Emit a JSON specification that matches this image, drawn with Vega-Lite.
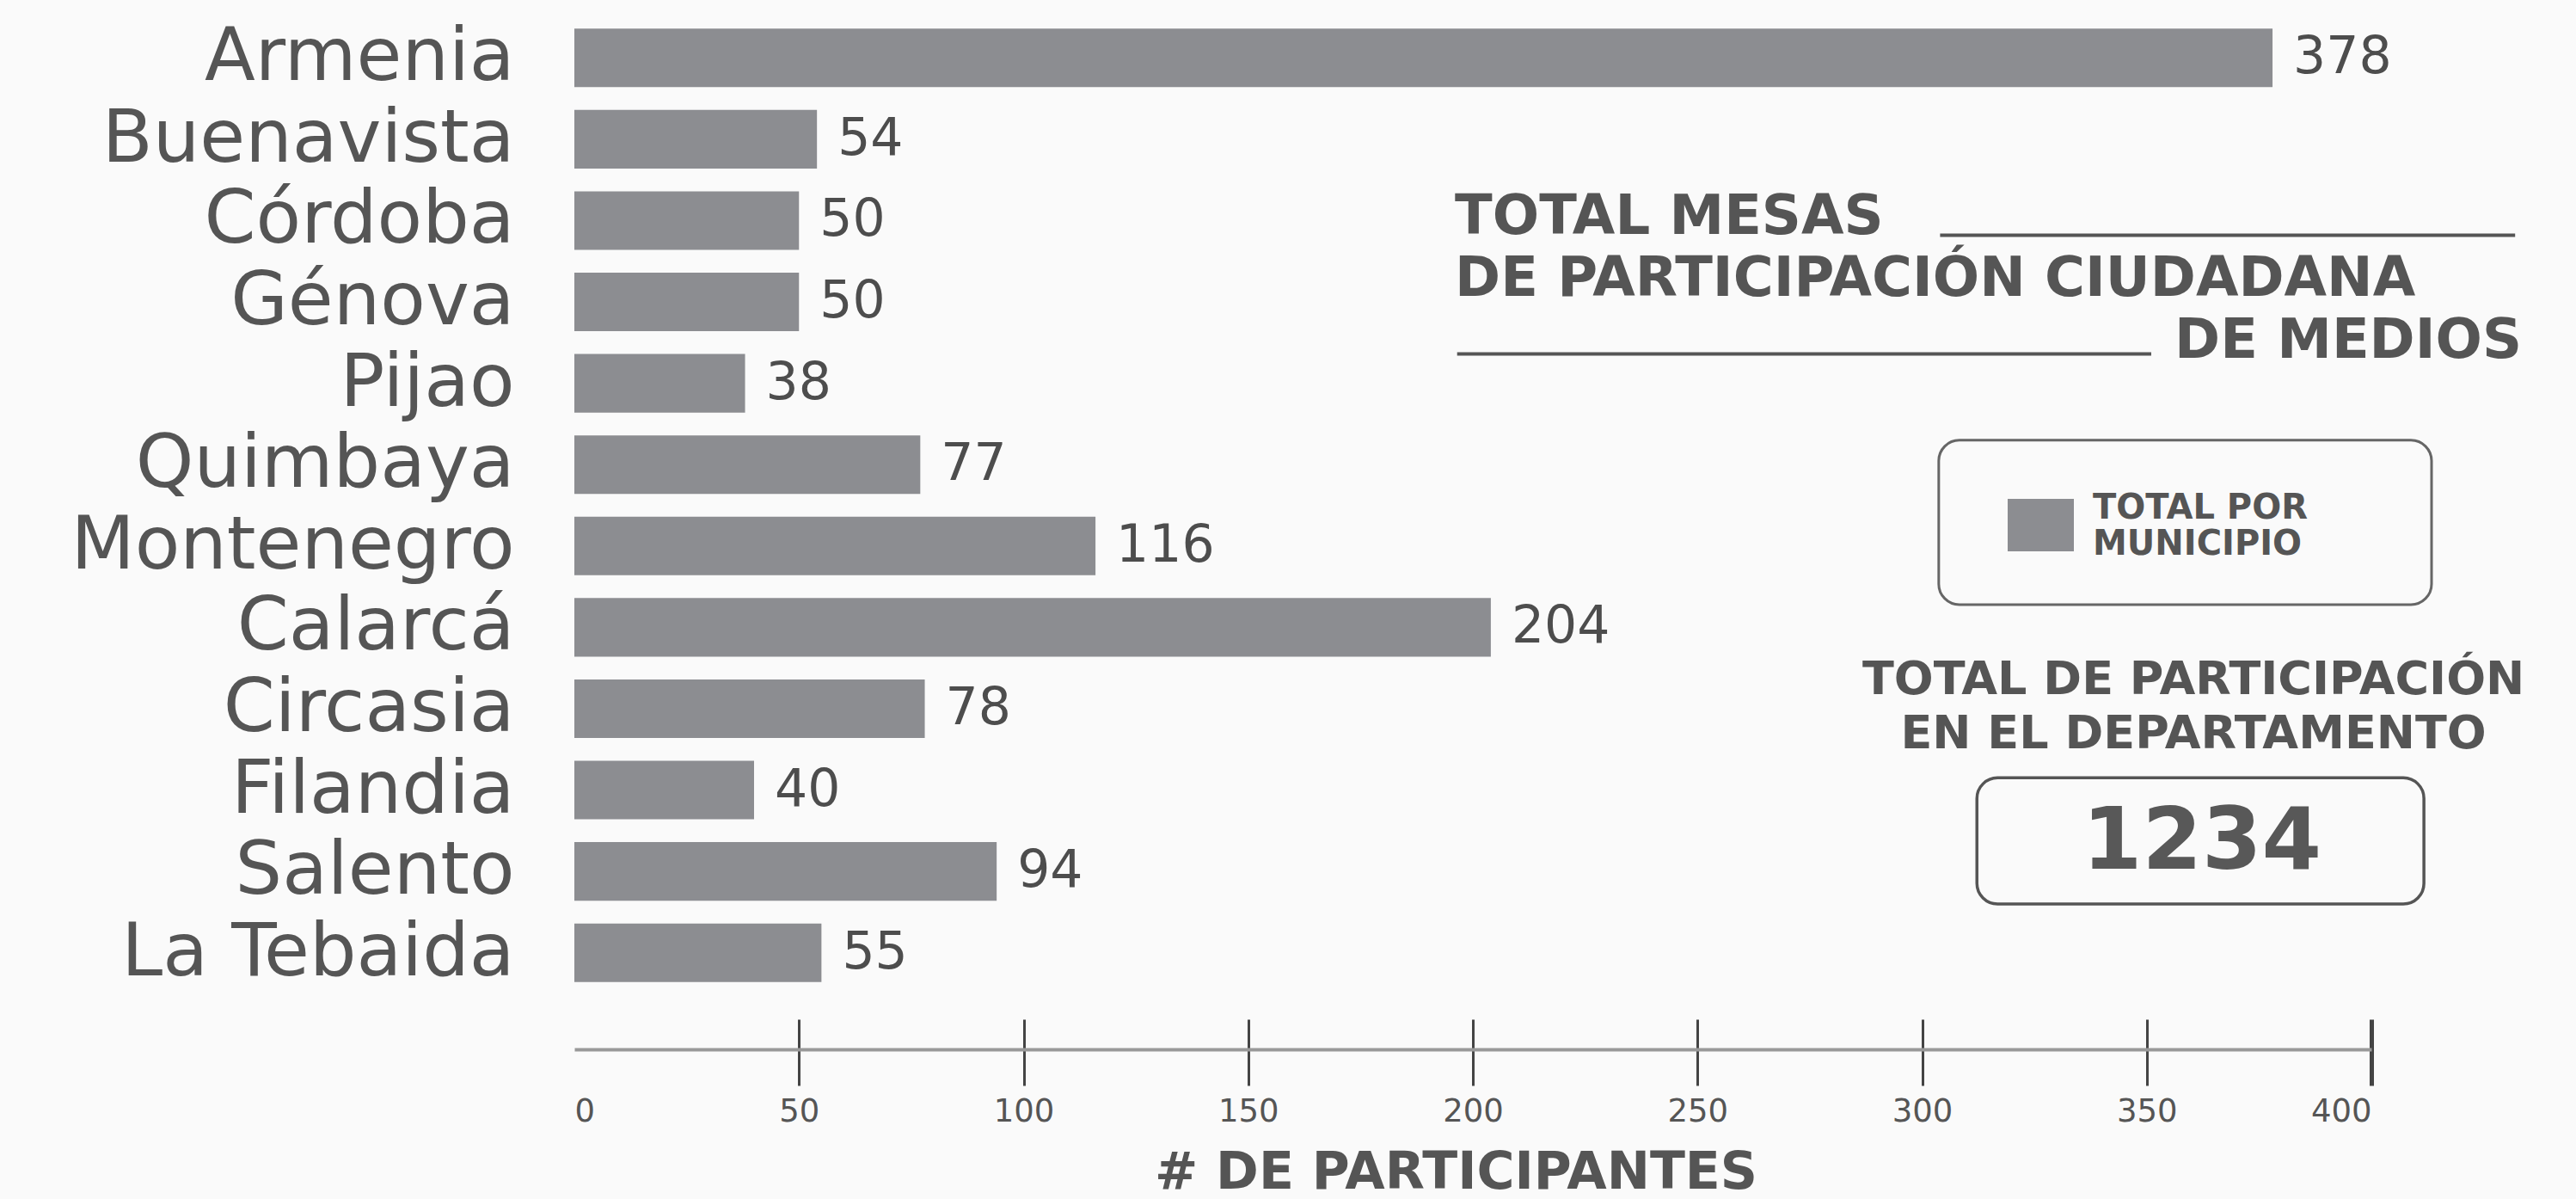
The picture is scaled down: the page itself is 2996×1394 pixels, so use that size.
{
  "$schema": "https://vega.github.io/schema/vega-lite/v6.json",
  "width": 2090,
  "height": 1135,
  "autosize": {"type": "none"},
  "padding": {"left": 668, "top": 20, "right": 238, "bottom": 239},
  "background": "#fafafa",
  "config": {"view": {"stroke": null}, "font": "DejaVu Sans"},
  "data": {
    "values": [
      {"municipio": "Armenia", "participantes": 378},
      {"municipio": "Buenavista", "participantes": 54},
      {"municipio": "Córdoba", "participantes": 50},
      {"municipio": "Génova", "participantes": 50},
      {"municipio": "Pijao", "participantes": 38},
      {"municipio": "Quimbaya", "participantes": 77},
      {"municipio": "Montenegro", "participantes": 116},
      {"municipio": "Calarcá", "participantes": 204},
      {"municipio": "Circasia", "participantes": 78},
      {"municipio": "Filandia", "participantes": 40},
      {"municipio": "Salento", "participantes": 94},
      {"municipio": "La Tebaida", "participantes": 55}
    ]
  },
  "resolve": {"scale": {"y": "independent"}, "axis": {"x": "independent", "y": "independent"}},
  "layer": [
    {
      "data": {"values": [{}]},
      "mark": {"type": "rule", "strokeOpacity": 0},
      "encoding": {
        "x": {
          "datum": 0, "type": "quantitative",
          "scale": {"domain": [0, 400], "nice": false},
          "axis": {
            "orient": "bottom", "offset": 30, "grid": false, "domain": false,
            "values": [0, 50, 100, 150, 200, 250, 300, 350, 400],
            "tickSize": 77, "tickColor": "#444444",
            "tickWidth": {"condition": {"test": "datum.value === 400", "value": 5}, "value": 3},
            "tickOpacity": {"condition": {"test": "datum.value === 0", "value": 0}, "value": 1},
            "labelFontSize": 37, "labelColor": "#555555", "labelPadding": 12,
            "title": "# DE PARTICIPANTES", "titleFontSize": 60, "titleFontWeight": "bold",
            "titleColor": "#555555", "titlePadding": 24, "titleX": 1025, "titleAlign": "center"
          }
        }
      }
    },
    {
      "data": {"values": [{}]},
      "mark": {"type": "rule", "strokeOpacity": 0},
      "encoding": {
        "x": {
          "datum": 0, "type": "quantitative",
          "axis": {"orient": "top", "offset": -1200, "domain": true, "domainColor": "#999999", "domainWidth": 4, "ticks": false, "labels": false, "grid": false, "title": null}
        }
      }
    },
    {
      "layer": [
        {
          "mark": {"type": "bar"},
          "encoding": {
            "y": {
              "field": "municipio", "type": "nominal", "sort": null,
              "scale": {"paddingInner": 0.28, "paddingOuter": 0.14},
              "axis": {"title": null, "domain": false, "ticks": false, "labelFontSize": 86, "labelColor": "#555555", "labelPadding": 70, "labelLimit": 900}
            },
            "x": {"field": "participantes", "type": "quantitative", "axis": null},
            "color": {
              "datum": "TOTAL POR MUNICIPIO",
              "scale": {"range": ["#8c8d91"]},
              "legend": {
                "orient": "none", "legendX": 1667, "legendY": 552, "title": null, "padding": 0,
                "symbolType": "M-1,-0.79H1V0.79H-1Z", "symbolSize": 5929, "symbolStrokeWidth": 0, "symbolOpacity": 1,
                "labelExpr": "['TOTAL POR', 'MUNICIPIO']", "labelFontSize": 40, "labelFontWeight": "bold",
                "labelBaseline": "bottom",
                "labelColor": "#555555", "labelOffset": 22, "labelLimit": 600
              }
            }
          }
        },
        {
          "mark": {"type": "text", "align": "left", "baseline": "middle", "dx": 24, "fontSize": 60, "color": "#4d4d4d"},
          "encoding": {
            "y": {"field": "municipio", "type": "nominal", "sort": null},
            "x": {"field": "participantes", "type": "quantitative", "axis": null},
            "text": {"field": "participantes", "type": "quantitative"}
          }
        }
      ]
    },
    {
      "layer": [
        {
          "data": {"values": [{}]},
          "mark": {"type": "text", "text": "TOTAL MESAS", "align": "left", "baseline": "middle", "fontSize": 64, "fontWeight": "bold", "color": "#555555"},
          "encoding": {
            "x": {"datum": 196, "type": "quantitative", "axis": null},
            "y": {"datum": 2.464, "type": "quantitative", "axis": null, "scale": {"domain": [0, 12], "reverse": true, "nice": false, "zero": false}}
          }
        },
        {
          "data": {"values": [{}]},
          "mark": {"type": "text", "text": "DE PARTICIPACIÓN CIUDADANA", "align": "left", "baseline": "middle", "fontSize": 64, "fontWeight": "bold", "color": "#555555"},
          "encoding": {
            "x": {"datum": 196, "type": "quantitative", "axis": null},
            "y": {"datum": 3.225, "type": "quantitative", "axis": null}
          }
        },
        {
          "data": {"values": [{}]},
          "mark": {"type": "text", "text": "DE MEDIOS", "align": "right", "baseline": "middle", "fontSize": 64, "fontWeight": "bold", "color": "#555555"},
          "encoding": {
            "x": {"datum": 433.5, "type": "quantitative", "axis": null},
            "y": {"datum": 3.986, "type": "quantitative", "axis": null}
          }
        },
        {
          "data": {"values": [{}]},
          "mark": {"type": "rule", "strokeWidth": 4, "color": "#555555"},
          "encoding": {
            "x": {"datum": 304, "type": "quantitative", "axis": null},
            "x2": {"datum": 432},
            "y": {"datum": 2.68, "type": "quantitative", "axis": null}
          }
        },
        {
          "data": {"values": [{}]},
          "mark": {"type": "rule", "strokeWidth": 4, "color": "#555555"},
          "encoding": {
            "x": {"datum": 196.5, "type": "quantitative", "axis": null},
            "x2": {"datum": 351},
            "y": {"datum": 4.14, "type": "quantitative", "axis": null}
          }
        },
        {
          "data": {"values": [{}]},
          "mark": {"type": "rect", "fill": null, "fillOpacity": 0, "stroke": "#666666", "strokeWidth": 3, "cornerRadius": 24},
          "encoding": {
            "x": {"datum": 303.7, "type": "quantitative", "axis": null},
            "x2": {"datum": 413.4},
            "y": {"datum": 5.2, "type": "quantitative", "axis": null},
            "y2": {"datum": 7.22}
          }
        },
        {
          "data": {"values": [{}]},
          "mark": {"type": "text", "text": "TOTAL DE PARTICIPACIÓN", "align": "center", "baseline": "middle", "fontSize": 54, "fontWeight": "bold", "color": "#555555"},
          "encoding": {
            "x": {"datum": 360.4, "type": "quantitative", "axis": null},
            "y": {"datum": 8.15, "type": "quantitative", "axis": null}
          }
        },
        {
          "data": {"values": [{}]},
          "mark": {"type": "text", "text": "EN EL DEPARTAMENTO", "align": "center", "baseline": "middle", "fontSize": 54, "fontWeight": "bold", "color": "#555555"},
          "encoding": {
            "x": {"datum": 360.4, "type": "quantitative", "axis": null},
            "y": {"datum": 8.82, "type": "quantitative", "axis": null}
          }
        },
        {
          "data": {"values": [{}]},
          "mark": {"type": "rect", "fill": null, "fillOpacity": 0, "stroke": "#555555", "strokeWidth": 3.5, "cornerRadius": 24},
          "encoding": {
            "x": {"datum": 312.2, "type": "quantitative", "axis": null},
            "x2": {"datum": 411.7},
            "y": {"datum": 9.35, "type": "quantitative", "axis": null},
            "y2": {"datum": 10.9}
          }
        },
        {
          "data": {"values": [{}]},
          "mark": {"type": "text", "text": "1234", "align": "center", "baseline": "middle", "fontSize": 100, "fontWeight": "bold", "color": "#585858"},
          "encoding": {
            "x": {"datum": 362.3, "type": "quantitative", "axis": null},
            "y": {"datum": 10.15, "type": "quantitative", "axis": null}
          }
        }
      ]
    }
  ]
}
